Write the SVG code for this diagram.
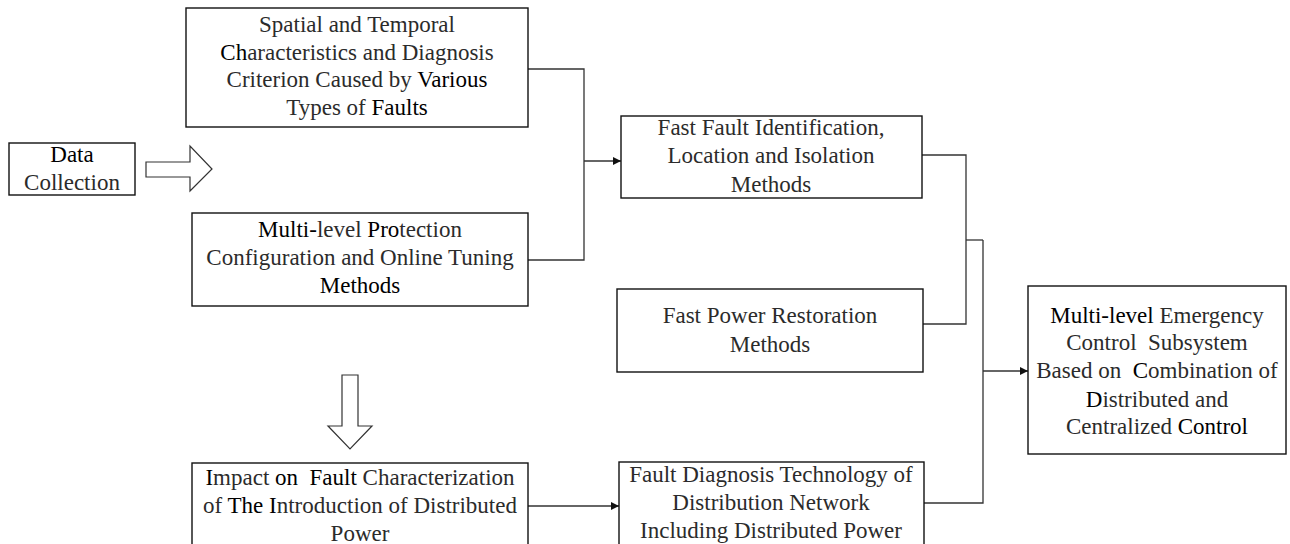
<svg xmlns="http://www.w3.org/2000/svg" width="1290" height="544" viewBox="0 0 1290 544">
  <defs>
    <marker id="arrow" viewBox="0 0 10 10" refX="10" refY="5" markerWidth="10" markerHeight="8" markerUnits="userSpaceOnUse" orient="auto">
      <path d="M0,0 L10,5 L0,10 Z" fill="#111"/>
    </marker>
    <style>
      .box { fill: #fff; stroke: #111; stroke-width: 1.4; }
      .wire { fill: none; stroke: #333; stroke-width: 1.3; }
      .hollow { fill: #fff; stroke: #333; stroke-width: 1.2; stroke-linejoin: miter; }
      text { font-size: 23px; fill: #2b2b2b; text-anchor: middle; }
      .pre { white-space: pre; }
      .k { fill: #000; }
    </style>
  </defs>

  <!-- connectors -->
  <g id="connectors">
    <polyline class="wire" points="528,69 584,69 584,260 528,260"/>
    <line class="wire" x1="584" y1="161" x2="621" y2="161" marker-end="url(#arrow)"/>
    <polyline class="wire" points="922,155 966,155 966,324 923,324"/>
    <line class="wire" x1="966" y1="240" x2="983" y2="240"/>
    <polyline class="wire" points="983,240 983,503 924,503"/>
    <line class="wire" x1="983" y1="371" x2="1028" y2="371" marker-end="url(#arrow)"/>
    <line class="wire" x1="528" y1="506" x2="619" y2="506" marker-end="url(#arrow)"/>
    <!-- hollow block arrows -->
    <polygon class="hollow" points="146,162 190,162 190,146 212,169 190,191 190,177 146,177"/>
    <polygon class="hollow" points="342,375 358,375 358,426 372,426 350,449 328,426 342,426"/>
  </g>

  <g font-family="'Liberation Serif', 'Times New Roman', 'DejaVu Serif', serif">
  <g id="data-collection">
    <rect class="box" x="9" y="143" width="126" height="52"/>
    <text x="72" y="162"><tspan class="k">Data</tspan></text>
    <text x="72" y="190">Collection</text>
  </g>

  <g id="fault-characteristics">
    <rect class="box" x="186" y="8" width="342" height="119"/>
    <text x="357" y="32">Spatial and Temporal</text>
    <text x="357" y="59.5"><tspan class="k">Ch</tspan>aracteristics and Diagnosis</text>
    <text x="357" y="87">Criterion Caused by <tspan class="k">Various</tspan></text>
    <text x="357" y="115">Types of <tspan class="k">Faults</tspan></text>
  </g>

  <g id="protection-tuning">
    <rect class="box" x="192" y="213" width="336" height="93"/>
    <text x="360" y="237"><tspan class="k">Multi-</tspan>level <tspan class="k">Pro</tspan>tection</text>
    <text x="360" y="265">Configuration and Online Tuning</text>
    <text x="360" y="293"><tspan class="k">Methods</tspan></text>
  </g>

  <g id="fast-fault-identification">
    <rect class="box" x="621" y="116" width="301" height="82"/>
    <text x="771" y="135">Fast Fault Identification,</text>
    <text x="771" y="163">Location and Isolation</text>
    <text x="771" y="192">Methods</text>
  </g>

  <g id="fast-power-restoration">
    <rect class="box" x="617" y="289" width="306" height="83"/>
    <text x="770" y="323">Fast Power Restoration</text>
    <text x="770" y="352">Methods</text>
  </g>

  <g id="distributed-power-impact">
    <rect class="box" x="192" y="463" width="336" height="90"/>
    <text class="pre" x="360" y="485"><tspan class="k">I</tspan>mpact <tspan class="k">on</tspan>  <tspan class="k">Fault</tspan> Characterization</text>
    <text x="360" y="513">of <tspan class="k">The I</tspan>ntroduction of Distributed</text>
    <text x="360" y="541">Power</text>
  </g>

  <g id="fault-diagnosis">
    <rect class="box" x="619" y="462" width="305" height="91"/>
    <text x="771" y="482">Fault Diagnosis Technology of</text>
    <text x="771" y="510">Distribution Network</text>
    <text x="771" y="538">Including Distributed Power</text>
  </g>

  <g id="emergency-control">
    <rect class="box" x="1028" y="286" width="258" height="168"/>
    <text x="1157" y="323"><tspan class="k">Multi-level</tspan> Emergency</text>
    <text class="pre" x="1157" y="350">Control  Subsystem</text>
    <text class="pre" x="1157" y="378">Based on  <tspan class="k">C</tspan>ombination of</text>
    <text x="1157" y="407"><tspan class="k">D</tspan>istributed and</text>
    <text x="1157" y="434">Centralized <tspan class="k">Control</tspan></text>
  </g>
  </g>
</svg>
